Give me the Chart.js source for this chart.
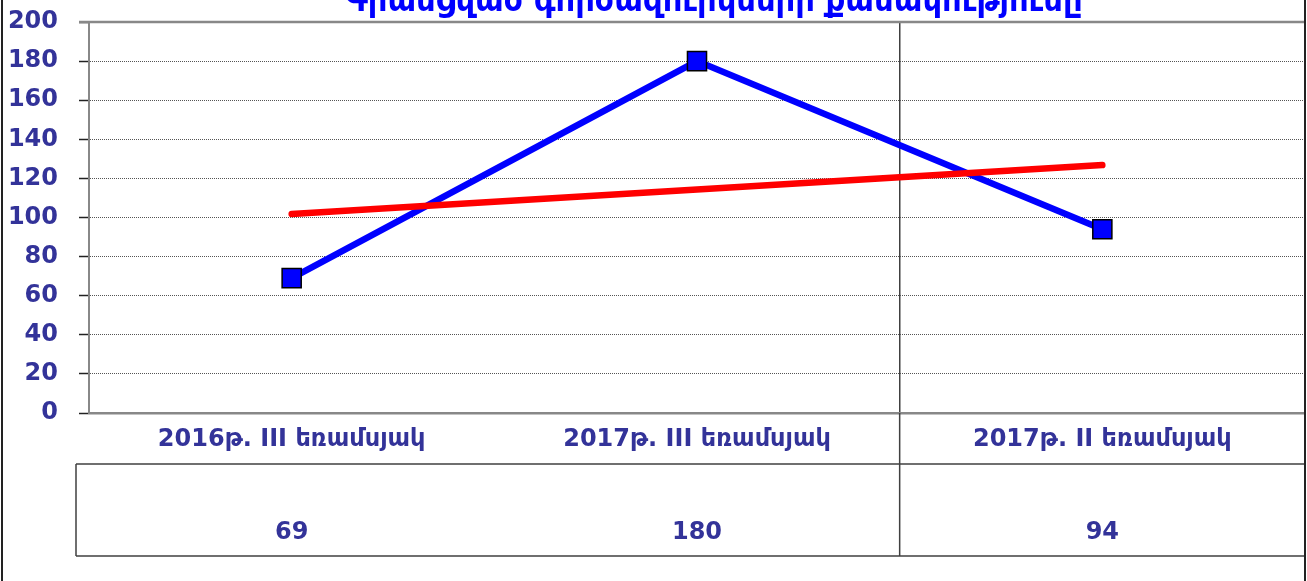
<!DOCTYPE html>
<html>
<head>
<meta charset="utf-8">
<script src="https://cdn.jsdelivr.net/npm/chart.js@4/dist/chart.umd.min.js"></script>
<style>
  html, body { margin: 0; padding: 0; background: #fff; overflow: hidden; }
  #wrap { width: 1307px; height: 581px; position: relative; }
  #quarterChart { display: block; }
</style>
</head>
<body>
<div id="wrap"><canvas id="quarterChart"></canvas></div>
<script>
const titleText = 'Գրանցված գործազուրկների քանակությունը';
const categories = ['2016թ. III եռամսյակ', '2017թ. III եռամսյակ', '2017թ. II եռամսյակ'];
const values = [69, 180, 94];
const trendValues = [101.8, 114.3, 126.8];
const yTicks = [0, 20, 40, 60, 80, 100, 120, 140, 160, 180, 200];

const labelColor = '#333399';
const labelFont = { family: 'DejaVu Sans', size: 24, weight: 'bold' };

// title (cut off at the top), outer frame and the data table under the axis
const framePlugin = {
  id: 'frame',
  afterDraw(chart) {
    const ctx = chart.ctx;
    const area = chart.chartArea;
    const x = chart.scales.x;
    const H = chart.height;
    ctx.save();

    ctx.fillStyle = '#0000ff';
    ctx.font = 'bold 34px "DejaVu Sans Condensed", "DejaVu Sans"';
    ctx.textAlign = 'center';
    ctx.textBaseline = 'alphabetic';
    ctx.fillText(titleText, 714, 11, 758);

    // plot top border
    ctx.strokeStyle = '#888';
    ctx.lineWidth = 2.5;
    ctx.beginPath();
    ctx.moveTo(area.left - 10, area.top);
    ctx.lineTo(area.right, area.top);
    ctx.stroke();

    // table
    const rowTop = area.bottom + 51;
    const rowBottom = area.bottom + 143;
    const tableLeft = 76;
    ctx.strokeStyle = '#404040';
    ctx.lineWidth = 1.5;
    ctx.beginPath();
    ctx.moveTo(tableLeft, rowTop); ctx.lineTo(area.right, rowTop);
    ctx.moveTo(tableLeft, rowBottom); ctx.lineTo(area.right, rowBottom);
    ctx.moveTo(tableLeft, rowTop); ctx.lineTo(tableLeft, rowBottom);
    const sep = (x.getPixelForValue(1) + x.getPixelForValue(2)) / 2;
    ctx.moveTo(sep, area.bottom); ctx.lineTo(sep, rowBottom);
    ctx.stroke();

    ctx.fillStyle = labelColor;
    ctx.font = 'bold 24px "DejaVu Sans"';
    ctx.textBaseline = 'middle';
    values.forEach((v, i) => {
      ctx.fillText(String(v), x.getPixelForValue(i), rowTop + 69);
    });

    // outer frame
    ctx.strokeStyle = '#222';
    ctx.lineWidth = 2;
    ctx.beginPath();
    ctx.moveTo(2, 0); ctx.lineTo(2, H);
    ctx.moveTo(area.right, 0); ctx.lineTo(area.right, H);
    ctx.stroke();
    ctx.restore();
  }
};

new Chart(document.getElementById('quarterChart'), {
  type: 'line',
  data: {
    labels: categories,
    datasets: [{
      label: 'Trend',
      data: trendValues,
      borderColor: '#ff0000',
      borderWidth: 6.5,
      borderCapStyle: 'round',
      pointRadius: 0,
      tension: 0,
      fill: false,
      order: 0
    }, {
      label: 'Values',
      data: values,
      borderColor: '#0000ff',
      borderWidth: 6.5,
      pointStyle: 'rect',
      pointRadius: 13.5,
      pointBackgroundColor: '#0000ff',
      pointBorderColor: '#000',
      pointBorderWidth: 1.5,
      tension: 0,
      fill: false,
      order: 1
    }]
  },
  options: {
    responsive: true,
    maintainAspectRatio: false,
    animation: false,
    layout: { autoPadding: false, padding: { left: 0, top: 22, right: 2, bottom: 0 } },
    plugins: {
      legend: { display: false },
      tooltip: { enabled: false },
      title: { display: false }
    },
    scales: {
      x: {
        offset: true,
        grid: {
          offset: true,
          drawTicks: false,
          lineWidth: 1.5,
          color: ctx => ctx.index === 2 ? '#404040' : 'rgba(0,0,0,0)'
        },
        border: { color: '#888', width: 2.5 },
        ticks: { color: labelColor, font: labelFont, padding: 12, maxRotation: 0 },
        afterFit: scale => {
          scale.height = 168;
          scale.paddingLeft = 0;
          scale.paddingRight = 0;
        }
      },
      y: {
        min: 0,
        max: 200,
        afterBuildTicks: scale => { scale.ticks = yTicks.map(v => ({ value: v })); },
        grid: {
          color: '#555',
          lineWidth: 1,
          tickLength: 10,
          tickColor: '#222',
          tickWidth: 1.5,
          tickBorderDash: []
        },
        border: { color: '#888', width: 2, dash: [1, 1] },
        ticks: { color: labelColor, font: labelFont, padding: 21 },
        afterFit: scale => {
          scale.width = 89;
          scale.paddingTop = 0;
          scale.paddingBottom = 0;
        }
      }
    }
  },
  plugins: [framePlugin]
});
</script>
</body>
</html>
